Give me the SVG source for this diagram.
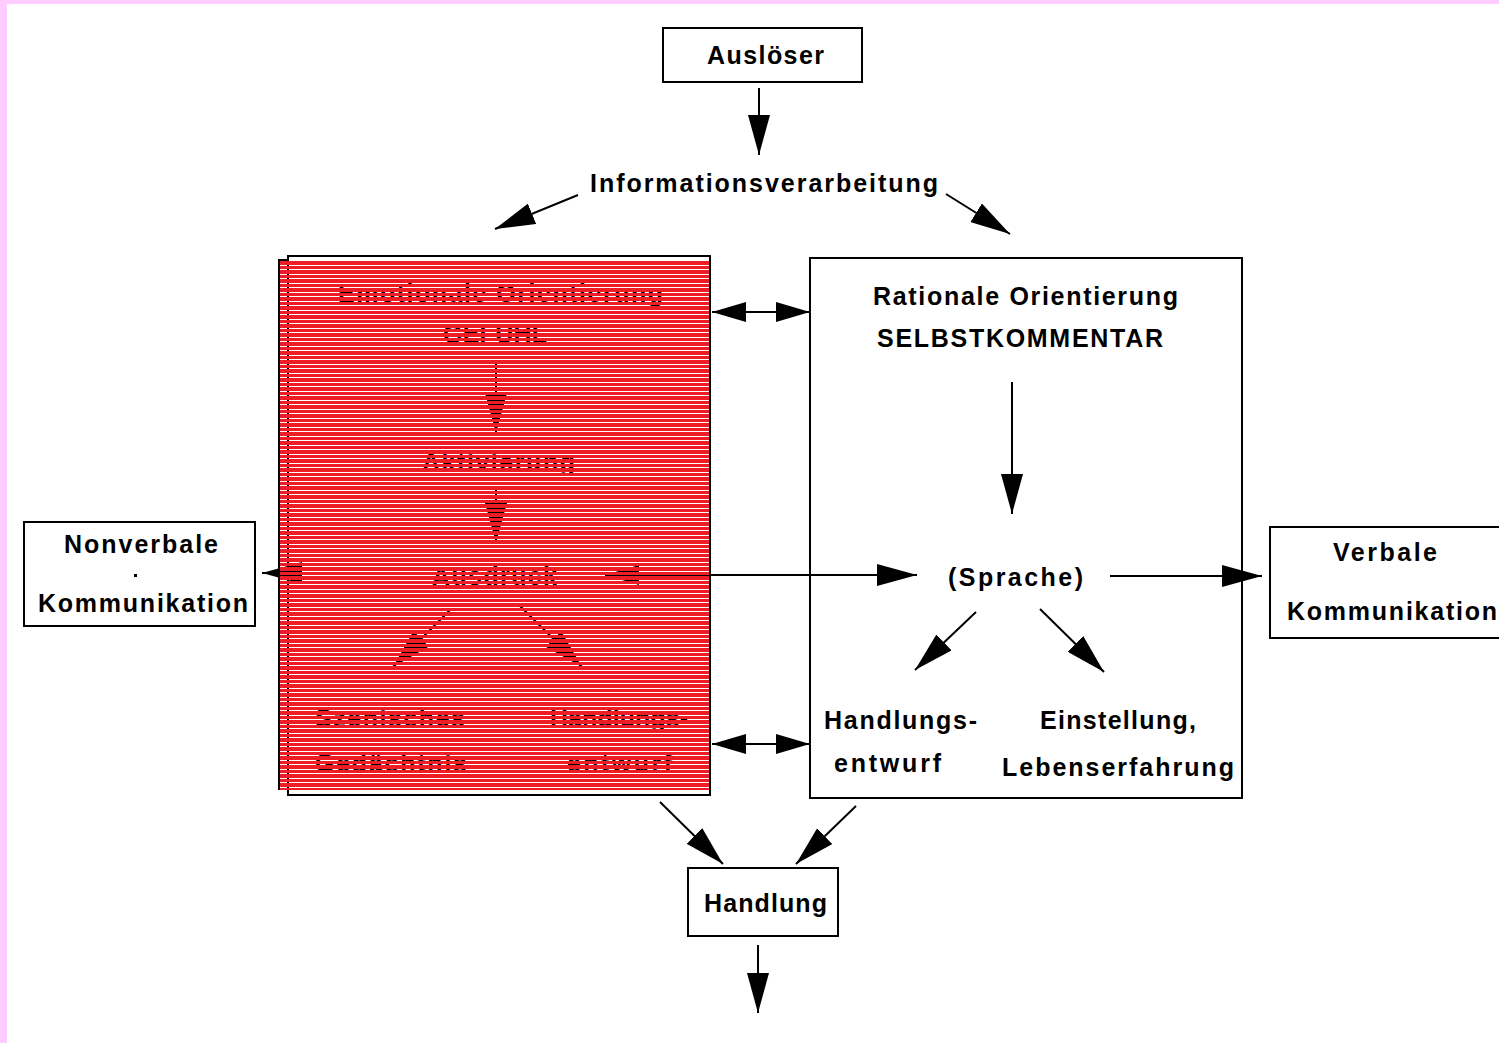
<svg xmlns="http://www.w3.org/2000/svg" width="1499" height="1043" viewBox="0 0 1499 1043">
<style>
text{font-family:"Liberation Sans",Arial,sans-serif;font-weight:bold;font-size:25px;fill:#000}
.box{fill:#fff;stroke:#000;stroke-width:2}
.ln{stroke:#000;stroke-width:2;fill:none}
.a{marker-end:url(#ah)}
.aa{marker-end:url(#ah2);marker-start:url(#ah2)}
</style>
<defs>
<marker id="ah" markerUnits="userSpaceOnUse" markerWidth="40" markerHeight="22" refX="40" refY="11" orient="auto-start-reverse" viewBox="0 0 40 22"><path d="M0,0 L40,11 L0,22 z" fill="#000"/></marker>
<marker id="ah2" markerUnits="userSpaceOnUse" markerWidth="34" markerHeight="20" refX="34" refY="10" orient="auto-start-reverse" viewBox="0 0 34 20"><path d="M0,0 L34,10 L0,20 z" fill="#000"/></marker>
</defs>
<rect x="0" y="0" width="1499" height="1043" fill="#fff"/>
<rect x="0" y="0" width="1499" height="4" fill="#ffccff"/>
<rect x="0" y="0" width="7" height="1043" fill="#ffccff"/>

<g id="ausloeser"><rect class="box" x="663" y="28" width="199" height="54"/><text x="707" y="64" textLength="117" lengthAdjust="spacing">Auslöser</text></g>
<g id="informationsverarbeitung"><text x="590" y="192" textLength="348" lengthAdjust="spacing">Informationsverarbeitung</text></g>

<g id="emotional">
<rect class="box" x="288" y="256" width="422" height="539"/>
<text x="338" y="302" textLength="325" lengthAdjust="spacing">Emotionale Orientierung</text>
<text x="443" y="343" textLength="104" lengthAdjust="spacing">GEFÜHL</text>
<line class="ln a" x1="496" y1="360" x2="496" y2="433"/>
<text x="422" y="471" textLength="153" lengthAdjust="spacing">Aktivierung</text>
<line class="ln a" x1="496" y1="488" x2="496" y2="543"/>
<text x="432" y="585" textLength="125" lengthAdjust="spacing">Ausdruck</text>
<line class="ln a" x1="430" y1="573" x2="262" y2="573"/>
<line class="ln" x1="605" y1="575" x2="710" y2="575" marker-start="url(#ah2)"/>
<line class="ln a" x1="450" y1="610" x2="393" y2="667"/>
<line class="ln a" x1="520" y1="606" x2="582" y2="667"/>
<text x="315" y="727" textLength="150" lengthAdjust="spacing">Szenisches</text>
<text x="315" y="772" textLength="152" lengthAdjust="spacing">Gedächtnis</text>
<text x="550" y="727" textLength="138" lengthAdjust="spacing">Handlungs-</text>
<text x="567" y="772" textLength="105" lengthAdjust="spacing">entwurf</text>
<line x1="494.5" y1="261" x2="494.5" y2="790" stroke="#ee1c24" stroke-width="429" stroke-dasharray="3.5 1" shape-rendering="crispEdges"/>
<path class="ln" d="M279,790 V260 H288"/>
</g>

<g id="rational">
<rect class="box" x="810" y="258" width="432" height="540"/>
<text x="873" y="305" textLength="305" lengthAdjust="spacing">Rationale Orientierung</text>
<text x="877" y="347" textLength="286" lengthAdjust="spacing">SELBSTKOMMENTAR</text>
<text x="948" y="586" textLength="135" lengthAdjust="spacing">(Sprache)</text>
<text x="824" y="729" textLength="153" lengthAdjust="spacing">Handlungs-</text>
<text x="834" y="772" textLength="107" lengthAdjust="spacing">entwurf</text>
<text x="1040" y="729" textLength="156" lengthAdjust="spacing">Einstellung,</text>
<text x="1002" y="776" textLength="232" lengthAdjust="spacing">Lebenserfahrung</text>
</g>

<g id="nonverbale"><rect class="box" x="24" y="522" width="231" height="104"/><text x="64" y="553" textLength="154" lengthAdjust="spacing">Nonverbale</text><rect x="134" y="574" width="3" height="3" fill="#000"/><text x="38" y="612" textLength="210" lengthAdjust="spacing">Kommunikation</text></g>
<g id="verbale"><rect class="box" x="1270" y="527" width="240" height="111"/><text x="1333" y="561" textLength="104" lengthAdjust="spacing">Verbale</text><text x="1287" y="620" textLength="210" lengthAdjust="spacing">Kommunikation</text></g>
<g id="handlung"><rect class="box" x="688" y="868" width="150" height="68"/><text x="704" y="912" textLength="123" lengthAdjust="spacing">Handlung</text></g>

<g id="connectors">
<line class="ln a" x1="759" y1="88" x2="759" y2="155"/>
<line class="ln a" x1="578" y1="195" x2="495" y2="229"/>
<line class="ln a" x1="946" y1="194" x2="1010" y2="234"/>
<line class="ln aa" x1="712" y1="312" x2="810" y2="312"/>
<line class="ln aa" x1="712" y1="744" x2="810" y2="744"/>
<line class="ln a" x1="1012" y1="382" x2="1012" y2="514"/>
<line class="ln a" x1="710" y1="575" x2="917" y2="575"/>
<line class="ln a" x1="1110" y1="576" x2="1262" y2="576"/>
<line class="ln a" x1="976" y1="612" x2="915" y2="670"/>
<line class="ln a" x1="1040" y1="609" x2="1104" y2="672"/>
<line class="ln a" x1="660" y1="802" x2="723" y2="864"/>
<line class="ln a" x1="856" y1="806" x2="796" y2="864"/>
<line class="ln a" x1="758" y1="945" x2="758" y2="1013"/>
</g>
</svg>
